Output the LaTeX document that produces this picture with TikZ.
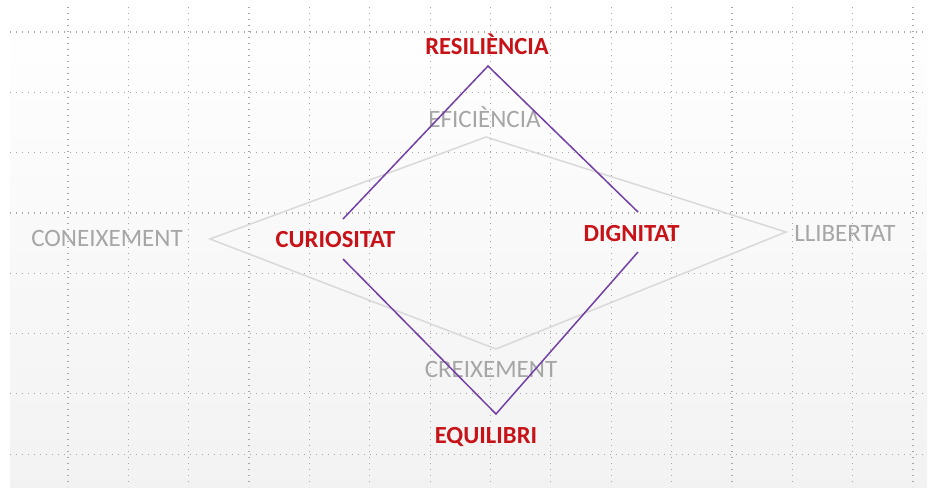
\documentclass[tikz,border=0pt]{standalone}
\usepackage{fontspec}
\setmainfont{Carlito}
\usepackage{tikz}
\usetikzlibrary{positioning}
\definecolor{mred}{rgb}{0.78, 0.07, 0.09}
\definecolor{mpurple}{rgb}{0.45, 0.25, 0.65}
\definecolor{mgray}{rgb}{0.65, 0.65, 0.65}
\definecolor{mline}{rgb}{0.85, 0.85, 0.85}
\tikzset{
  gridline/.style={gray!70, line width=0.6pt, dash pattern=on 0.6pt off 2.4pt},
  redlabel/.style={mred, font=\fontsize{12.3}{14}\selectfont\bfseries, anchor=base, inner sep=0pt},
  graylabel/.style={mgray, font=\fontsize{12.5}{14}\selectfont, anchor=base, inner sep=0pt}
}

\begin{document}
\begin{tikzpicture}[x=0.5pt, y=-0.5pt]
      \fill [white] (0,0) rectangle (930,487);
      \useasboundingbox (0,0) rectangle (930,487);
      \shade [top color=white, bottom color=gray!10] (10,7) rectangle (927,487);
      \foreach \x in {0,...,14}
        \draw [gridline] ({68+60.36*\x},7) -- ({68+60.36*\x},487);
      \foreach \y in {0,...,7}
        \draw [gridline] (10,{32+60.3*\y}) -- (927,{32+60.3*\y});

      \node [graylabel] (efi) at (484.5,127) {EFICIÈNCIA};
      \node [graylabel] (con) at (107,246) {CONEIXEMENT};
      \node [graylabel] (lli) at (845,241) {LLIBERTAT};
      \node [graylabel] (cre) at (491,377) {CREIXEMENT};

      \coordinate (gtop) at (486,137);
      \coordinate (gright) at (786,232);
      \coordinate (gbot) at (496,349);
      \coordinate (gleft) at (210,239);
      \draw [mline, line width=0.75pt] (gtop) -- (gright) -- (gbot) -- (gleft) -- cycle;

      \node [redlabel] (res) at (487,54) {RESILIÈNCIA};
      \node [redlabel] (cur) at (335.5,247) {CURIOSITAT};
      \node [redlabel] (dig) at (631.5,241) {DIGNITAT};
      \node [redlabel] (equ) at (486,443) {EQUILIBRI};

      \coordinate (ptop) at (488,66);
      \coordinate (pbot) at (496,414);
      \coordinate (pcura) at (343,219);
      \coordinate (pcurb) at (343,259);
      \coordinate (pdiga) at (638,212);
      \coordinate (pdigb) at (638,252);
      \draw [mpurple, line width=0.75pt] (pcura) -- (ptop) -- (pdiga);
      \draw [mpurple, line width=0.75pt] (pcurb) -- (pbot) -- (pdigb);
\end{tikzpicture}
\end{document}
